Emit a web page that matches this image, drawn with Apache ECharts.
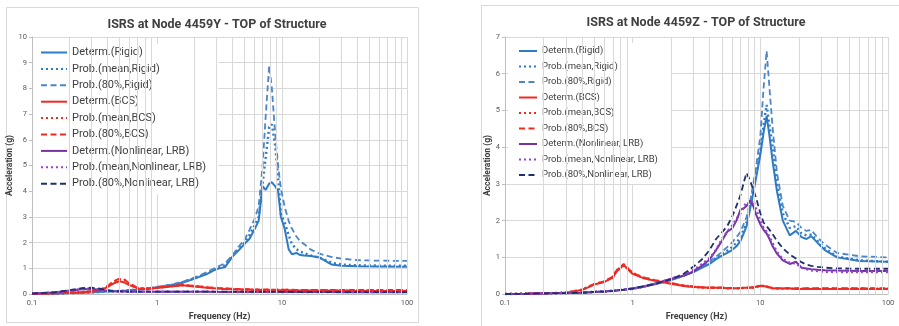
<!DOCTYPE html>
<html>
<head>
<meta charset="utf-8">
<script src="https://cdn.jsdelivr.net/npm/echarts@6/dist/echarts.min.js"></script>
<style>
  html, body { margin: 0; padding: 0; background: #fff; }
  #chart { width: 899px; height: 326px; }
</style>
</head>
<body>
<div id="chart"></div>
<script>
// series names (same in both panels)
const names = [
  'Determ.(Rigid)', 'Prob.(mean,Rigid)', 'Prob.(80%,Rigid)',
  'Determ.(BCS)', 'Prob.(mean,BCS)', 'Prob.(80%,BCS)',
  'Determ.(Nonlinear, LRB)', 'Prob.(mean,Nonlinear, LRB)', 'Prob.(80%,Nonlinear, LRB)'
];
const minorTicks = [0.2, 0.3, 0.4, 0.5, 0.6, 0.7, 0.8, 0.9, 2, 3, 4, 5, 6, 7, 8, 9, 20, 30, 40, 50, 60, 70, 80, 90];

// --- 4459Y panel ---
const fY = [0.1, 0.15, 0.2, 0.25, 0.3, 0.35, 0.4, 0.45, 0.5, 0.55, 0.6, 0.7, 0.8, 1, 1.3, 1.6, 2, 2.5, 3, 3.5, 4, 4.5, 5, 5.5, 6, 6.5, 7, 7.4, 7.9, 8.3, 8.8, 9.3, 9.8, 10.5, 11.3, 12, 13, 14, 15, 17, 20, 25, 30, 40, 60, 100];
const yRigidDet = [0.01, 0.02, 0.04, 0.05, 0.07, 0.08, 0.1, 0.11, 0.12, 0.13, 0.15, 0.17, 0.2, 0.26, 0.34, 0.44, 0.6, 0.78, 0.98, 1.05, 1.45, 1.7, 1.95, 2.15, 2.5, 2.85, 4.2, 4.05, 4.3, 4.35, 4.2, 4.0, 3.0, 2.55, 1.75, 1.55, 1.6, 1.52, 1.5, 1.48, 1.42, 1.15, 1.1, 1.08, 1.07, 1.06];
const yRigidMean = [0.01, 0.02, 0.04, 0.05, 0.07, 0.08, 0.1, 0.11, 0.12, 0.13, 0.15, 0.18, 0.21, 0.27, 0.35, 0.46, 0.62, 0.8, 1.0, 1.12, 1.5, 1.75, 2.0, 2.3, 2.65, 3.0, 4.3, 5.3, 6.5, 6.6, 5.8, 4.6, 3.1, 2.8, 2.3, 1.95, 1.75, 1.65, 1.6, 1.5, 1.42, 1.22, 1.15, 1.12, 1.11, 1.1];
const yRigid80 = [0.01, 0.02, 0.04, 0.05, 0.07, 0.08, 0.1, 0.11, 0.12, 0.14, 0.15, 0.18, 0.21, 0.28, 0.37, 0.48, 0.65, 0.85, 1.05, 1.2, 1.5, 1.85, 2.1, 2.5, 2.9, 3.4, 5.0, 6.9, 8.9, 8.0, 6.3, 5.0, 4.1, 3.4, 2.85, 2.55, 2.25, 2.05, 1.95, 1.73, 1.57, 1.44, 1.38, 1.32, 1.3, 1.29];
const yBcsDet = [0.01, 0.03, 0.05, 0.07, 0.1, 0.14, 0.27, 0.42, 0.5, 0.45, 0.35, 0.22, 0.19, 0.24, 0.3, 0.34, 0.3, 0.25, 0.22, 0.2, 0.19, 0.18, 0.17, 0.17, 0.16, 0.16, 0.16, 0.16, 0.15, 0.15, 0.15, 0.15, 0.15, 0.15, 0.15, 0.14, 0.14, 0.14, 0.14, 0.14, 0.13, 0.13, 0.13, 0.12, 0.12, 0.12];
const yBcsMean = [0.01, 0.03, 0.05, 0.08, 0.11, 0.16, 0.3, 0.48, 0.57, 0.55, 0.4, 0.24, 0.2, 0.25, 0.31, 0.35, 0.31, 0.26, 0.23, 0.21, 0.2, 0.19, 0.18, 0.18, 0.17, 0.17, 0.17, 0.17, 0.16, 0.16, 0.16, 0.16, 0.16, 0.16, 0.16, 0.15, 0.15, 0.15, 0.15, 0.15, 0.14, 0.14, 0.14, 0.14, 0.14, 0.14];
const yBcs80 = [0.01, 0.03, 0.05, 0.08, 0.11, 0.16, 0.31, 0.5, 0.6, 0.56, 0.42, 0.25, 0.21, 0.26, 0.32, 0.36, 0.32, 0.27, 0.24, 0.22, 0.21, 0.2, 0.19, 0.19, 0.18, 0.18, 0.18, 0.18, 0.17, 0.17, 0.17, 0.17, 0.17, 0.17, 0.17, 0.17, 0.16, 0.16, 0.16, 0.16, 0.16, 0.16, 0.16, 0.16, 0.16, 0.16];
const yNlDet = [0.02, 0.06, 0.13, 0.19, 0.2, 0.17, 0.13, 0.11, 0.1, 0.1, 0.09, 0.09, 0.09, 0.09, 0.09, 0.09, 0.09, 0.09, 0.08, 0.08, 0.08, 0.08, 0.08, 0.08, 0.08, 0.08, 0.08, 0.08, 0.08, 0.08, 0.08, 0.08, 0.08, 0.08, 0.08, 0.08, 0.08, 0.08, 0.08, 0.08, 0.08, 0.08, 0.07, 0.07, 0.07, 0.07];
const yNlMean = [0.02, 0.06, 0.14, 0.2, 0.21, 0.18, 0.14, 0.11, 0.1, 0.1, 0.1, 0.09, 0.09, 0.09, 0.09, 0.09, 0.09, 0.09, 0.09, 0.08, 0.08, 0.08, 0.08, 0.08, 0.08, 0.08, 0.08, 0.08, 0.08, 0.08, 0.08, 0.08, 0.08, 0.08, 0.08, 0.08, 0.08, 0.08, 0.08, 0.08, 0.08, 0.08, 0.08, 0.08, 0.08, 0.08];
const yNl80 = [0.02, 0.07, 0.15, 0.23, 0.25, 0.21, 0.15, 0.12, 0.11, 0.1, 0.1, 0.1, 0.1, 0.1, 0.1, 0.1, 0.1, 0.1, 0.1, 0.1, 0.1, 0.1, 0.09, 0.09, 0.09, 0.09, 0.09, 0.09, 0.09, 0.09, 0.09, 0.09, 0.09, 0.09, 0.09, 0.09, 0.09, 0.08, 0.08, 0.08, 0.08, 0.08, 0.08, 0.08, 0.08, 0.08];

// --- 4459Z panel ---
const fZ = [0.1, 0.15, 0.2, 0.3, 0.4, 0.5, 0.6, 0.7, 0.75, 0.8, 0.85, 0.9, 1, 1.2, 1.5, 2, 2.5, 3, 3.5, 4, 4.5, 5, 5.5, 6, 6.5, 7, 7.5, 7.8, 8.3, 8.8, 9.3, 10, 10.6, 11.2, 11.8, 12.5, 13.5, 15, 17, 19, 21, 23, 25, 28, 32, 40, 60, 100];
const zRigidDet = [0, 0.01, 0.02, 0.03, 0.04, 0.06, 0.07, 0.09, 0.1, 0.11, 0.12, 0.13, 0.15, 0.2, 0.27, 0.38, 0.5, 0.6, 0.72, 0.82, 0.95, 1.05, 1.12, 1.2, 1.3, 1.45, 1.7, 1.85, 2.3, 2.75, 3.2, 3.8, 4.4, 4.85, 4.3, 3.6, 2.8, 2.0, 1.6, 1.72, 1.55, 1.5, 1.58, 1.4, 1.2, 1.0, 0.9, 0.88];
const zRigidMean = [0, 0.01, 0.02, 0.03, 0.04, 0.06, 0.07, 0.09, 0.1, 0.11, 0.12, 0.13, 0.15, 0.2, 0.28, 0.39, 0.5, 0.62, 0.74, 0.85, 0.98, 1.1, 1.18, 1.28, 1.4, 1.55, 1.8, 1.95, 2.4, 2.85, 3.3, 3.9, 4.6, 5.15, 4.6, 4.0, 3.0, 2.2, 1.8, 1.85, 1.65, 1.6, 1.62, 1.45, 1.25, 1.02, 0.92, 0.88];
const zRigid80 = [0, 0.01, 0.02, 0.03, 0.04, 0.06, 0.07, 0.09, 0.1, 0.11, 0.12, 0.13, 0.15, 0.2, 0.28, 0.4, 0.52, 0.64, 0.76, 0.88, 1.02, 1.15, 1.28, 1.4, 1.55, 1.7, 1.95, 2.1, 2.5, 3.0, 3.5, 4.3, 5.6, 6.62, 5.6, 4.5, 3.3, 2.4, 2.0, 1.97, 1.8, 1.72, 1.75, 1.55, 1.35, 1.12, 1.03, 1.0];
const zBcsDet = [0, 0.01, 0.02, 0.04, 0.11, 0.26, 0.33, 0.45, 0.62, 0.7, 0.8, 0.7, 0.55, 0.44, 0.36, 0.28, 0.22, 0.19, 0.18, 0.17, 0.17, 0.17, 0.16, 0.16, 0.16, 0.16, 0.17, 0.17, 0.17, 0.18, 0.2, 0.22, 0.22, 0.2, 0.18, 0.16, 0.15, 0.15, 0.15, 0.14, 0.14, 0.14, 0.14, 0.14, 0.14, 0.14, 0.14, 0.14];
const zBcsMean = [0, 0.01, 0.02, 0.04, 0.12, 0.27, 0.34, 0.47, 0.65, 0.72, 0.78, 0.72, 0.57, 0.45, 0.37, 0.29, 0.23, 0.2, 0.18, 0.17, 0.17, 0.17, 0.16, 0.16, 0.16, 0.16, 0.17, 0.17, 0.17, 0.18, 0.2, 0.22, 0.22, 0.2, 0.18, 0.16, 0.15, 0.15, 0.15, 0.15, 0.15, 0.15, 0.15, 0.15, 0.15, 0.15, 0.15, 0.15];
const zBcs80 = [0, 0.01, 0.02, 0.04, 0.12, 0.28, 0.35, 0.48, 0.66, 0.74, 0.82, 0.74, 0.58, 0.46, 0.38, 0.3, 0.24, 0.21, 0.19, 0.18, 0.18, 0.18, 0.17, 0.17, 0.17, 0.17, 0.18, 0.18, 0.18, 0.19, 0.21, 0.23, 0.23, 0.21, 0.19, 0.17, 0.16, 0.16, 0.16, 0.16, 0.16, 0.16, 0.16, 0.16, 0.16, 0.16, 0.16, 0.16];
const zNlDet = [0, 0.01, 0.02, 0.03, 0.04, 0.06, 0.07, 0.09, 0.1, 0.11, 0.12, 0.13, 0.15, 0.2, 0.28, 0.42, 0.5, 0.62, 0.78, 0.94, 1.2, 1.45, 1.7, 1.78, 2.0, 2.3, 2.35, 2.4, 2.55, 2.4, 2.15, 1.9, 1.75, 1.65, 1.5, 1.3, 1.1, 0.92, 0.82, 0.88, 0.72, 0.7, 0.68, 0.66, 0.65, 0.64, 0.63, 0.63];
const zNlMean = [0, 0.01, 0.02, 0.03, 0.04, 0.06, 0.07, 0.09, 0.1, 0.11, 0.12, 0.13, 0.15, 0.2, 0.28, 0.42, 0.53, 0.66, 0.82, 0.98, 1.2, 1.5, 1.7, 1.85, 2.05, 2.2, 2.4, 2.5, 2.45, 2.55, 2.3, 2.0, 1.8, 1.7, 1.55, 1.38, 1.15, 0.95, 0.85, 0.84, 0.72, 0.68, 0.65, 0.63, 0.61, 0.6, 0.6, 0.6];
const zNl80 = [0, 0.01, 0.02, 0.03, 0.04, 0.06, 0.07, 0.09, 0.1, 0.11, 0.12, 0.13, 0.15, 0.21, 0.28, 0.4, 0.55, 0.75, 0.95, 1.2, 1.5, 1.68, 1.85, 2.1, 2.4, 2.7, 3.1, 3.3, 3.1, 2.85, 2.6, 2.2, 1.95, 1.85, 1.75, 1.63, 1.45, 1.25, 1.08, 0.97, 0.87, 0.8, 0.77, 0.74, 0.72, 0.7, 0.69, 0.69];

const FONT = "'Liberation Sans Narrow', 'Arial Narrow', Roboto, sans-serif";
const styles = [
  { color: '#2E7BC4', type: 'solid', width: 2 },
  { color: '#2E7BC4', type: [2, 3], width: 2.4 },
  { color: '#4A86C8', type: [6, 3.5], width: 1.8 },
  { color: '#EE2A22', type: 'solid', width: 2 },
  { color: '#EE2A22', type: [2, 3], width: 2.4 },
  { color: '#EE2A22', type: [6, 3.5], width: 1.8 },
  { color: '#7434A4', type: 'solid', width: 2 },
  { color: '#9444CC', type: [2, 3], width: 2.4 },
  { color: '#1F2F6E', type: [6, 3.5], width: 1.8 }
];

function build(freq, sets, idx) {
  const list = sets.map((vals, i) => ({
    type: 'line',
    name: names[i],
    xAxisIndex: idx,
    yAxisIndex: idx,
    symbol: 'none',
    z: 3,
    lineStyle: styles[i],
    itemStyle: { color: styles[i].color },
    data: freq.map((f, k) => [f, vals[k]])
  }));
  // minor log gridlines (2..9 in each decade)
  list.unshift({
    type: 'line',
    xAxisIndex: idx,
    yAxisIndex: idx,
    data: [],
    silent: true,
    z: 1,
    markLine: {
      silent: true,
      symbol: ['none', 'none'],
      label: { show: false },
      lineStyle: { color: '#d9d9d9', type: 'solid', width: 1 },
      data: minorTicks.map(v => ({ xAxis: v }))
    }
  });
  return list;
}

function xAxis(idx, gap) {
  return {
    type: 'log', logBase: 10, min: 0.1, max: 100, gridIndex: idx,
    axisLine: { lineStyle: { color: '#bfbfbf' } },
    axisTick: { show: false },
    splitLine: { show: true, lineStyle: { color: '#d9d9d9' } },
    axisLabel: { fontSize: 7.5, color: '#595959', margin: 5, fontFamily: FONT,
      formatter: v => String(parseFloat(Number(v).toPrecision(3))) },
    name: 'Frequency (Hz)', nameLocation: 'middle', nameGap: gap,
    nameTextStyle: { fontWeight: 'bold', fontSize: 9, color: '#404040', fontFamily: FONT }
  };
}
function yAxis(idx, max, gap) {
  return {
    type: 'value', min: 0, max: max, interval: 1, gridIndex: idx,
    axisLine: { show: true, lineStyle: { color: '#bfbfbf' } },
    axisTick: { show: true, length: 3, lineStyle: { color: '#bfbfbf' } },
    splitLine: { lineStyle: { color: '#d9d9d9' } },
    axisLabel: { fontSize: 7.5, color: '#595959', margin: 5, fontFamily: FONT },
    name: 'Acceleration (g)', nameLocation: 'middle', nameGap: gap, nameRotate: 90,
    nameTextStyle: { fontWeight: 'bold', fontSize: 8.5, color: '#404040', fontFamily: FONT }
  };
}

const chart = echarts.init(document.getElementById('chart'));
chart.setOption({
  animation: false,
  graphic: [
    { type: 'rect', shape: { x: 6.5, y: 7.5, width: 412, height: 315 }, style: { fill: 'none', stroke: '#d9d9d9', lineWidth: 1 } },
    { type: 'rect', shape: { x: 481.5, y: 5.5, width: 430, height: 330 }, style: { fill: 'none', stroke: '#d9d9d9', lineWidth: 1 } }
  ],
  title: [
    { text: 'ISRS at Node 4459Y - TOP of Structure', left: 212, top: 13, textAlign: 'center',
      textStyle: { fontSize: 12.5, fontWeight: 'bold', color: '#404040', fontFamily: FONT } },
    { text: 'ISRS at Node 4459Z - TOP of Structure', left: 691, top: 11, textAlign: 'center',
      textStyle: { fontSize: 12.5, fontWeight: 'bold', color: '#404040', fontFamily: FONT } }
  ],
  legend: [
    { data: names, orient: 'vertical', left: 33, top: 44, itemWidth: 26, itemHeight: 11, itemGap: 5.4,
      padding: [3, 12, 5, 7], backgroundColor: '#fff', selectedMode: false,
      itemStyle: { opacity: 0 },
      textStyle: { fontSize: 11, color: '#404040', fontFamily: FONT } },
    { data: names, orient: 'vertical', left: 508, top: 43, itemWidth: 18, itemHeight: 10, itemGap: 5.5,
      padding: [3, 14, 4, 10], backgroundColor: '#fff', selectedMode: false,
      itemStyle: { opacity: 0 },
      textStyle: { fontSize: 9.5, color: '#404040', fontFamily: FONT } }
  ],
  grid: [
    { left: 32, top: 37, width: 375, height: 264 },
    { left: 505, top: 37, width: 383, height: 269 }
  ],
  xAxis: [xAxis(0, 12), xAxis(1, 11)],
  yAxis: [yAxis(0, 10, 14), yAxis(1, 7, 13)],
  series: build(fY, [yRigidDet, yRigidMean, yRigid80, yBcsDet, yBcsMean, yBcs80, yNlDet, yNlMean, yNl80], 0)
    .concat(build(fZ, [zRigidDet, zRigidMean, zRigid80, zBcsDet, zBcsMean, zBcs80, zNlDet, zNlMean, zNl80], 1))
});
</script>
</body>
</html>
